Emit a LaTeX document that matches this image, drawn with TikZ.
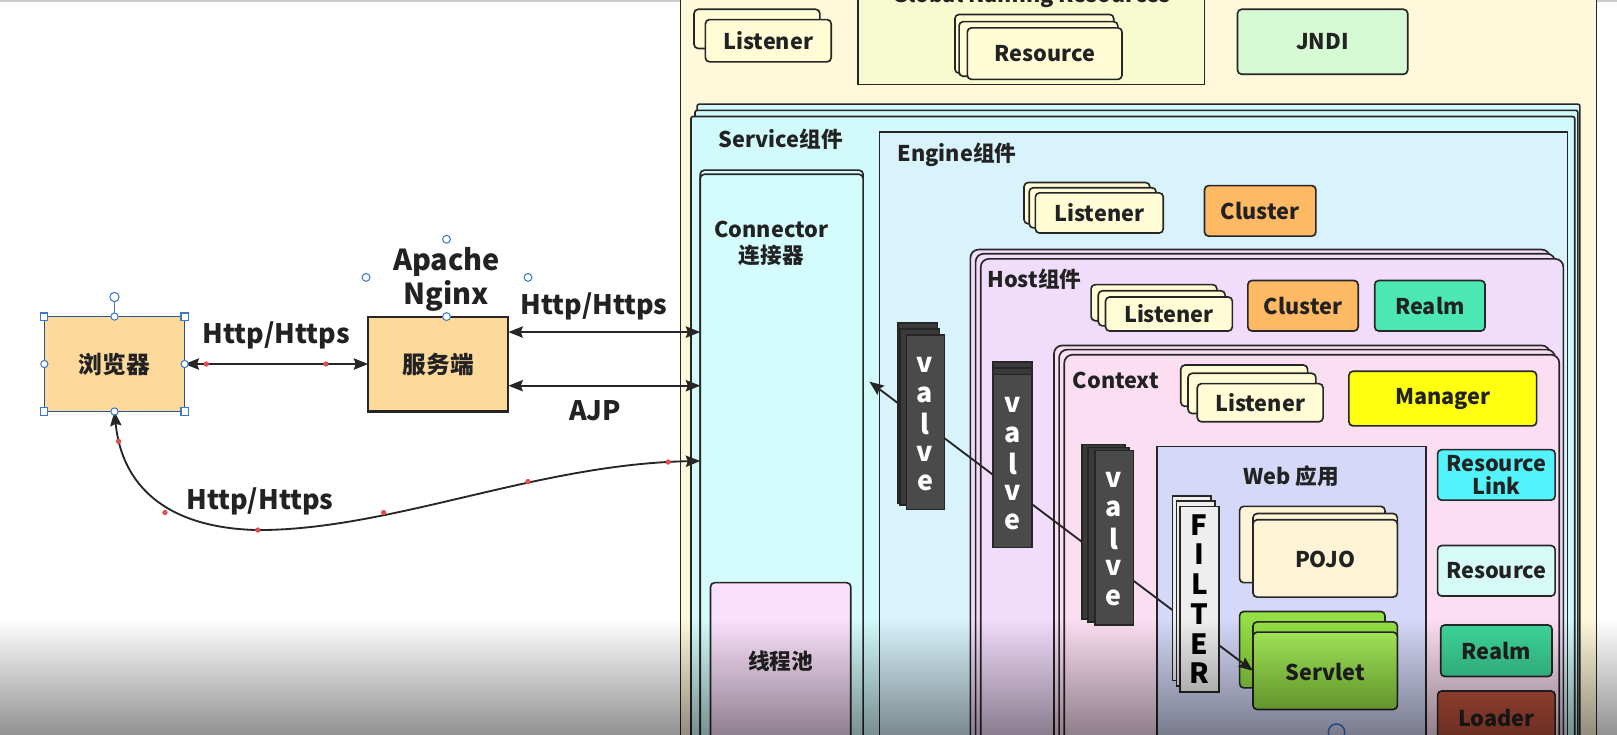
\documentclass[tikz,border=0pt]{standalone}
\usepackage{fontspec}
\setmainfont{Noto Sans CJK SC}
\usetikzlibrary{arrows.meta,fadings}
\definecolor{cream}{HTML}{FFF8DA}
\definecolor{lis}{HTML}{FFFCD6}
\definecolor{gnr}{HTML}{F8FAD0}
\definecolor{jndi}{HTML}{D6FAD4}
\definecolor{svc}{HTML}{D2FAFA}
\definecolor{con}{HTML}{D4FCFC}
\definecolor{eng}{HTML}{D8F3FC}
\definecolor{clu}{HTML}{FDB963}
\definecolor{host}{HTML}{F2DCFB}
\definecolor{realmA}{HTML}{4CE8B4}
\definecolor{ctx}{HTML}{FCDEF2}
\definecolor{mgr}{HTML}{FFFF10}
\definecolor{web}{HTML}{D5D8F8}
\definecolor{pojo}{HTML}{FFF5D6}
\definecolor{srvlt}{HTML}{95DF45}
\definecolor{srvltT}{HTML}{A8EE5C}
\definecolor{rlink}{HTML}{52F3FA}
\definecolor{res}{HTML}{D6FAF5}
\definecolor{realmB}{HTML}{3ED89C}
\definecolor{loader}{HTML}{C0533F}
\definecolor{pool}{HTML}{FBE0FB}
\definecolor{valve}{HTML}{4A4A4A}
\definecolor{valveb}{HTML}{3A3A3A}
\definecolor{filt}{HTML}{EEEEEE}
\definecolor{org}{HTML}{FDD99C}
\definecolor{txt}{HTML}{222222}
\definecolor{sel}{HTML}{3A78C8}
\definecolor{dot}{HTML}{E05050}
\newcommand\bx[7]{%
  \pgfmathsetmacro\bxw{((#4)-(#2))*0.5}%
  \pgfmathsetmacro\bxh{((#5)-(#3))*0.5}%
  \node[bxs,#6,minimum width=\bxw pt,minimum height=\bxh pt] (#1) at ({((#2)+(#4))/2},{((#3)+(#5))/2}) {#7};}
\begin{document}
\begin{tikzpicture}[x=0.5pt,y=-0.5pt,
  font=\bfseries\fontsize{10.5}{12.5}\selectfont,
  bxs/.style={draw=black!85,line width=0.8pt,rounded corners=2pt,inner sep=0pt,outer sep=0pt,text=txt,align=center},
  lbl/.style={text=txt,inner sep=0pt},
  big/.style={lbl,font=\bfseries\fontsize{13}{14}\selectfont},
  vl/.style={text=white,inner sep=0pt,font=\bfseries\fontsize{13}{13}\selectfont},
  fl/.style={text=black,inner sep=0pt,font=\bfseries\fontsize{13.5}{13.5}\selectfont},
  arr/.style={line width=0.9pt,draw=black!85,{Stealth[length=7pt,width=5.5pt,inset=1pt]}-{Stealth[length=7pt,width=5.5pt,inset=1pt]}},
  hdl/.style={draw=sel,fill=white,line width=0.5pt},
  rdot/.style={fill=dot,draw=none}]
\useasboundingbox (0,0) rectangle (1568,712);
\clip (0,0) rectangle (1568,712);
\fill[white] (0,0) rectangle (1568,712);
\draw[black!20,line width=0.6pt] (0,1) -- (1568,1);
% ---------- left part ----------
\bx{brw}{43}{307}{179}{399}{fill=org,draw=sel!70!black,line width=0.6pt,rounded corners=0pt,font=\bfseries\fontsize{11.5}{13}\selectfont}{浏览器}
\bx{srv}{357}{307}{493}{399}{fill=org,line width=1pt,rounded corners=0pt,font=\bfseries\fontsize{11.5}{13}\selectfont}{服务端}
\node[lbl,font=\bfseries\fontsize{14}{16}\selectfont] (apa) at (433,254) {Apache};
\node[lbl,font=\bfseries\fontsize{14}{16}\selectfont] (ngx) at (433,287) {Nginx};
% ---------- server (right) ----------
\bx{server}{660}{-20}{1548}{760}{fill=cream,rounded corners=0pt}{}
\bx{lisTb}{673}{9}{795}{47}{fill=lis}{}
\bx{lisT}{684}{19}{806}{60}{fill=lis}{Listener}
\bx{gnr}{832}{-20}{1168}{82}{fill=gnr,rounded corners=0pt}{}
\node[lbl] (gnrT) at (1000,-4) {Global Naming Resources};
\bx{resTb}{926}{14}{1080}{71}{fill=lis}{}
\bx{resTm}{930}{21}{1084}{74}{fill=lis}{}
\bx{resT}{938}{27}{1088}{77}{fill=lis}{Resource}
\bx{jndi}{1200}{9}{1365}{72}{fill=jndi}{JNDI}
% service
\bx{svcB}{676}{101}{1532}{760}{fill=svc,rounded corners=1pt}{}
\bx{svcM}{674}{107}{1530}{760}{fill=svc,rounded corners=1pt}{}
\bx{svc}{670}{113}{1527}{760}{fill=svc,rounded corners=1pt}{}
\node[lbl] (svcT) at (757,135) {Service组件};
\bx{conB}{679}{165}{837}{760}{fill=con}{}
\bx{conF}{679}{169}{837}{760}{fill=con}{}
\node[lbl,align=center] (conT) at (748,236) {Connector\\连接器};
\bx{pool}{689}{565}{825}{760}{fill=pool}{}
\node[lbl] (poolT) at (757,641) {线程池};
% engine
\bx{eng}{853}{128}{1520}{760}{fill=eng,rounded corners=0pt}{}
\node[lbl] (engT) at (928,150) {Engine组件};
\bx{elisB}{993}{177}{1115}{217}{fill=lis}{}
\bx{elisM}{998}{182}{1121}{221}{fill=lis}{}
\bx{elis}{1004}{187}{1128}{226}{fill=lis}{Listener}
\bx{eclu}{1168}{180}{1276}{229}{fill=clu}{Cluster}
% host
\bx{hostB}{941}{242}{1503}{760}{fill=host,rounded corners=4pt}{}
\bx{hostM}{946}{246}{1508}{760}{fill=host,rounded corners=4pt}{}
\bx{host}{951}{251}{1516}{760}{fill=host,rounded corners=4pt}{}
\node[lbl] (hostT) at (1003,271) {Host组件};
\bx{hlisB}{1058}{276}{1180}{311}{fill=lis}{}
\bx{hlisM}{1065}{282}{1188}{316}{fill=lis}{}
\bx{hlis}{1072}{288}{1195}{321}{fill=lis}{Listener}
\bx{hclu}{1210}{272}{1317}{321}{fill=clu}{Cluster}
\bx{hrealm}{1333}{272}{1440}{321}{fill=realmA}{Realm}
% context
\bx{ctxB}{1022}{335}{1503}{760}{fill=ctx,rounded corners=4pt}{}
\bx{ctxM}{1027}{339}{1508}{760}{fill=ctx,rounded corners=4pt}{}
\bx{ctx}{1032}{344}{1512}{760}{fill=ctx,rounded corners=4pt}{}
\node[lbl] (ctxT) at (1082,369) {Context};
\bx{clisB}{1145}{354}{1268}{394}{fill=lis}{}
\bx{clisM}{1152}{362}{1276}{401}{fill=lis}{}
\bx{clis}{1161}{372}{1283}{409}{fill=lis}{Listener}
\bx{mgr}{1308}{360}{1490}{413}{fill=mgr}{Manager}
\bx{rlink}{1394}{436}{1508}{485}{fill=rlink}{Resource\\[-1pt]Link}
\bx{cres}{1394}{529}{1508}{578}{fill=res}{Resource}
\bx{crealm}{1397}{606}{1505}{656}{fill=realmB}{Realm}
\bx{loader}{1394}{670}{1508}{740}{fill=loader}{}
\node[lbl] (loaderT) at (1451,696) {Loader};
% web app
\bx{web}{1122}{433}{1383}{760}{fill=web,rounded corners=0pt}{}
\node[lbl] (webT) at (1252,462) {Web 应用};
\bx{pojoB}{1202}{491}{1343}{565}{fill=pojo}{}
\bx{pojoM}{1215}{498}{1355}{572}{fill=pojo}{}
\bx{pojo}{1215}{504}{1355}{579}{fill=pojo}{}
\node[lbl] (pojoT) at (1285,542) {POJO};
\bx{svB}{1202}{593}{1343}{667}{fill=srvlt}{}
\bx{svM}{1215}{603}{1355}{677}{fill=srvlt}{}
\bx{svF}{1215}{613}{1355}{688}{top color=srvltT,bottom color=srvlt}{}
\node[lbl] (svT) at (1285,652) {Servlet};
\draw[sel,line width=0.7pt] (1296,710) circle (8);
% pipeline connector
\coordinate (cin) at (843,370);
\draw[arr] (cin) -- (svF.west);
% valves
\bx{v1B}{871}{313}{909}{488}{fill=valveb,rounded corners=0pt}{}
\bx{v1M}{873}{319}{911}{490}{fill=valveb,rounded corners=0pt}{}
\bx{v1}{879}{325}{916}{494}{fill=valve,rounded corners=0pt}{}
\foreach \c [count=\i] in {v,a,l,v,e} \node[vl] (v1l\i) at (897,{354+(\i-1)*28.6}) {\c};
\bx{v2B}{963}{351}{1001}{520}{fill=valveb,rounded corners=0pt}{}
\bx{v2M}{963}{357}{1001}{525}{fill=valveb,rounded corners=0pt}{}
\bx{v2}{963}{363}{1001}{531}{fill=valve,rounded corners=0pt}{}
\foreach \c [count=\i] in {v,a,l,v,e} \node[vl] (v2l\i) at (982,{393+(\i-1)*28.3}) {\c};
\bx{v3B}{1049}{431}{1091}{600}{fill=valveb,rounded corners=0pt}{}
\bx{v3M}{1055}{434}{1095}{603}{fill=valveb,rounded corners=0pt}{}
\bx{v3}{1062}{437}{1099}{606}{fill=valve,rounded corners=0pt}{}
\foreach \c [count=\i] in {v,a,l,v,e} \node[vl] (v3l\i) at (1080,{465+(\i-1)*28.7}) {\c};
% filter
\bx{fB}{1137}{481}{1174}{660}{fill=filt,rounded corners=0pt}{}
\bx{fM}{1141}{486}{1178}{665}{fill=filt,rounded corners=0pt}{}
\bx{fF}{1144}{491}{1182}{671}{fill=filt,rounded corners=0pt}{}
\foreach \c [count=\i] in {F,I,L,T,E,R} \node[fl] (fl\i) at (1163,{509+(\i-1)*28.8}) {\c};
% ---------- connectors on the left ----------
\coordinate (yA) at (0,322);
\coordinate (yB) at (0,374);
\coordinate (yC) at (0,447);
\draw[arr] (brw.east) -- (srv.west);
\draw[arr] (srv.east |- yA) -- (conF.west |- yA);
\draw[arr] (srv.east |- yB) -- (conF.west |- yB);
\draw[arr] (brw.south) .. controls (118,470) and (160,512) .. (250,514) .. controls (380,514) and (520,450) .. (conF.west |- yC);
\node[big] (l1) at (268,325) {Http/Https};
\node[big] (l2) at (576,297) {Http/Https};
\node[big] (l3) at (577,398) {AJP};
\node[big] (l4) at (252,486) {Http/Https};
% edit points
\foreach \p in {(200,353),(316,353),(115,428),(160,497),(250,514),(372,497),(512,467),(648,448)} \fill[rdot] \p circle (2.6);
% selection handles
\draw[sel,line width=0.5pt] (111,293) -- (111,307);
\draw[hdl] (111,288) circle (4.5);
\foreach \p in {(43,307),(179,307),(43,399),(179,399)} \draw[hdl] \p ++(-3.5,-3.5) rectangle ++(7,7);
\foreach \p in {(111,307),(43,353),(179,353),(111,399)} \draw[hdl] \p circle (3.5);
\foreach \p in {(433,232),(355,269),(512,269),(433,307)} \draw[hdl] \p circle (3.8);
% video overlay shading
\fill[black,fill opacity=0.44,path fading=north] (-5,600) rectangle (1575,715);
\end{tikzpicture}
\end{document}
